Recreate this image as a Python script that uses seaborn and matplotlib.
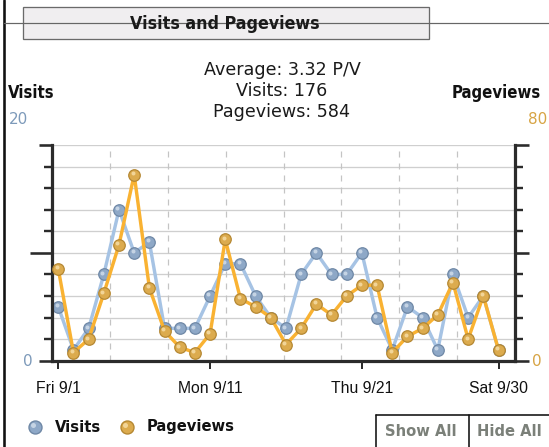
import matplotlib
matplotlib.use("Agg")
import matplotlib.pyplot as plt
import matplotlib.transforms as mtransforms
import seaborn as sns
import pandas as pd
from matplotlib.patches import Rectangle
from matplotlib.lines import Line2D
from matplotlib.ticker import MultipleLocator, FixedLocator
from matplotlib import font_manager as fm

# ---- data ----
days = list(range(1, 31))
visits = [5, 1, 3, 8, 14, 10, 11, 3, 3, 3, 6, 9, 9, 6, 4,
          3, 8, 10, 8, 8, 10, 4, 1, 5, 4, 1, 8, 4, 6, 1]
pageviews = [34, 3, 8, 25, 43, 69, 27, 11, 5, 3, 10, 45, 23, 20, 16,
             6, 12, 21, 17, 24, 28, 28, 3, 9, 12, 17, 29, 8, 24, 4]
tick_days = [1, 11, 21, 30]
tick_labels = ["Fri 9/1", "Mon 9/11", "Thu 9/21", "Sat 9/30"]

df = pd.DataFrame({"day": days, "visits": visits, "pageviews": pageviews})

sns.set_theme(style="white")
plt.rcParams['font.family'] = ['DejaVu Sans']

names = {f.name for f in fm.fontManager.ttflist}
narrow = 'Liberation Sans Narrow' if 'Liberation Sans Narrow' in names else 'Liberation Sans'

W, H = 549, 447
fig = plt.figure(figsize=(W / 100, H / 100), dpi=100)
fig.patch.set_facecolor('white')

def fx(x):
    return x / W

def fy(y):
    return 1 - y / H

PX = 0.72  # points per pixel

L, R, T, B = 52, 515, 145, 360.7
ax = fig.add_axes([fx(L), fy(B), (R - L) / W, (B - T) / H])
ax2 = ax.twinx()

blue_line = '#a6c3e4'
blue_mk = '#8ea8c7'
blue_edge = '#6f88a6'
blue_hi = '#d0dcea'
orange_line = '#f9b232'
orange_mk = '#dcab4e'
orange_edge = '#b58833'
orange_hi = '#f6dda6'

sns.lineplot(data=df, x="day", y="visits", ax=ax, color=blue_line,
             lw=3.4 * PX, marker='o', markersize=11.5 * PX,
             markerfacecolor=blue_mk, markeredgecolor=blue_edge,
             markeredgewidth=0.9, zorder=3)
sns.lineplot(data=df, x="day", y="visits", ax=ax, lw=0, marker='o',
             markersize=4 * PX, markerfacecolor=blue_hi, markeredgewidth=0,
             alpha=0.85, zorder=4)
ax.lines[-1].set_transform(mtransforms.offset_copy(ax.transData, fig=fig,
                                                   x=-1.6, y=1.6, units='dots'))
sns.lineplot(data=df, x="day", y="pageviews", ax=ax2, color=orange_line,
             lw=3.4 * PX, marker='o', markersize=11.5 * PX,
             markerfacecolor=orange_mk, markeredgecolor=orange_edge,
             markeredgewidth=0.9, zorder=3)
sns.lineplot(data=df, x="day", y="pageviews", ax=ax2, lw=0, marker='o',
             markersize=4 * PX, markerfacecolor=orange_hi, markeredgewidth=0,
             alpha=0.85, zorder=4)
ax2.lines[-1].set_transform(mtransforms.offset_copy(ax2.transData, fig=fig,
                                                    x=-1.6, y=1.6, units='dots'))

px_per_day = (498.5 - 58.3) / 29
xl = 1 + (L - 58.3) / px_per_day
xr = 1 + (R - 58.3) / px_per_day
ax.set_xlim(xl, xr)
ax.set_ylim(0, 20)
ax2.set_ylim(0, 80)

ax.set_xlabel('')
ax.set_ylabel('')
ax2.set_ylabel('')

ax.yaxis.set_major_locator(FixedLocator([0, 10, 20]))
ax.yaxis.set_minor_locator(MultipleLocator(2))
ax2.yaxis.set_major_locator(FixedLocator([0, 40, 80]))
ax2.yaxis.set_minor_locator(MultipleLocator(8))
ax.set_xticks(tick_days)
ax.set_xticklabels(tick_labels, fontsize=11.3, family=narrow, color='#111111')

ax.grid(axis='y', which='both', color='#cfcfcf', lw=1.3 * PX)
ax.grid(axis='x', visible=False)
ax2.grid(False)
for k in range(1, 8):
    ax.plot([k / 8, k / 8], [0, 1], transform=ax.transAxes,
            color='#c4c4c4', lw=1.2 * PX, ls=(0, (5, 5)), zorder=1)

SP = '#2b2b2b'
for s in ['top', 'right']:
    ax.spines[s].set_visible(False)
for s in ['top', 'left', 'bottom']:
    ax2.spines[s].set_visible(False)
for sp in [ax.spines['left'], ax.spines['bottom'], ax2.spines['right']]:
    sp.set_color(SP)
    sp.set_linewidth(3.2 * PX)
    sp.set_zorder(5)

ax.tick_params(axis='y', which='major', direction='out', length=13 * PX,
               width=2.6 * PX, color=SP, labelleft=False, left=True)
ax.tick_params(axis='y', which='minor', direction='out', length=8 * PX,
               width=2.4 * PX, color=SP, left=True)
ax2.tick_params(axis='y', which='major', direction='out', length=14 * PX,
                width=2.6 * PX, color=SP, labelright=False, right=True)
ax2.tick_params(axis='y', which='minor', direction='out', length=8 * PX,
                width=2.4 * PX, color=SP, right=True)
ax.tick_params(axis='x', direction='out', length=8 * PX, width=2 * PX,
               color=SP, pad=8.5, bottom=True)
ax.tick_params(axis='x', which='minor', bottom=False)
# the middle tick on the visits axis is the longest
ax.yaxis.get_major_ticks()[1].tick1line.set_markersize(22 * PX)

# ---- frame and title ----
fig.add_artist(Line2D([fx(4), fx(4)], [0, 1], color='#111111', lw=2.6 * PX))
fig.add_artist(Line2D([fx(4), fx(549)], [fy(22.7), fy(22.7)],
                      color='#666666', lw=1.2 * PX))
fig.add_artist(Rectangle((fx(22.7), fy(39.3)), (429 - 22.7) / W, (39.3 - 6.7) / H,
                         facecolor='#f0eef0', edgecolor='#6a6a6a', lw=1.3 * PX))
fig.text(fx(225), fy(24), "Visits and Pageviews", ha='center', va='center',
         fontsize=12.8, fontweight='bold', fontstretch='condensed', color='#1a1a1a')

avg = sum(pageviews) / sum(visits)
info = [f"Average: {avg:.2f} P/V", f"Visits: {sum(visits)}",
        f"Pageviews: {sum(pageviews)}"]
for t, yy in zip(info, [70, 91, 112]):
    fig.text(fx(282), fy(yy), t, ha='center', va='center', fontsize=12.6,
             color='#1a1a1a')

fig.text(fx(8), fy(93), "Visits", ha='left', va='center', fontsize=12,
         fontweight='bold', fontstretch='condensed', color='#111111')
fig.text(fx(9), fy(119), "20", ha='left', va='center', fontsize=11,
         color='#7d9aba')
fig.text(fx(541), fy(93), "Pageviews", ha='right', va='center', fontsize=12,
         fontweight='bold', fontstretch='condensed', color='#111111')
fig.text(fx(547), fy(119), "80", ha='right', va='center', fontsize=11,
         color='#d7a444')
fig.text(fx(28), fy(361), "0", ha='center', va='center', fontsize=11,
         color='#7d9aba')
fig.text(fx(537), fy(362), "0", ha='center', va='center', fontsize=11,
         color='#d7a444')

# ---- legend ----
for xc, mk, ed, hi in [(35, blue_mk, blue_edge, blue_hi),
                       (127, orange_mk, orange_edge, orange_hi)]:
    fig.add_artist(Line2D([fx(xc)], [fy(427)], marker='o', markersize=13 * PX,
                          markerfacecolor=mk, markeredgecolor=ed, lw=0))
    fig.add_artist(Line2D([fx(xc - 2)], [fy(425)], marker='o', markersize=5 * PX,
                          markerfacecolor=hi, markeredgewidth=0, lw=0, alpha=0.85))
fig.text(fx(55), fy(427), "Visits", ha='left', va='center', fontsize=11.8,
         fontweight='bold', fontstretch='condensed', color='#111111')
fig.text(fx(147), fy(427), "Pageviews", ha='left', va='center', fontsize=11.8,
         fontweight='bold', fontstretch='condensed', color='#111111')

# ---- buttons ----
fig.add_artist(Line2D([fx(376), fx(376)], [fy(415), 0], color='#111111', lw=1.6 * PX))
fig.add_artist(Line2D([fx(376), 1], [fy(415), fy(415)], color='#111111', lw=1.6 * PX))
fig.add_artist(Line2D([fx(469), fx(469)], [fy(415), 0], color='#111111', lw=1.6 * PX))
fig.text(fx(421), fy(431), "Show All", ha='center', va='center', fontsize=11.8,
         fontweight='bold', fontstretch='condensed', color='#7b8079')
fig.text(fx(509), fy(431), "Hide All", ha='center', va='center', fontsize=11.8,
         fontweight='bold', fontstretch='condensed', color='#7b8079')

fig.savefig("out.png", dpi=100)
